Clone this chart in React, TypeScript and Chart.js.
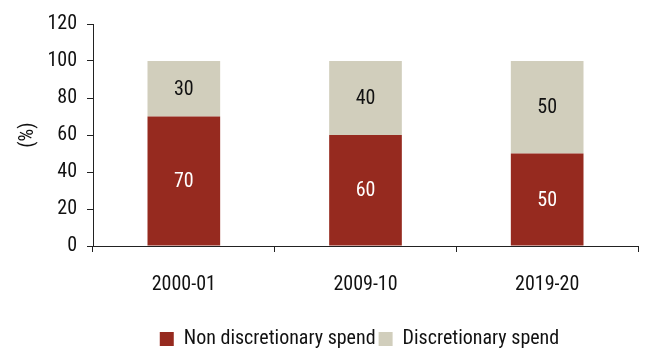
import React, { useEffect, useRef } from "react";
import { Chart, registerables } from "chart.js";

Chart.register(...registerables);

const categories = ["2000-01", "2009-10", "2019-20"];
const nonDiscretionary = [70, 60, 50];
const discretionary = [30, 40, 50];
const yTicks = [0, 20, 40, 60, 80, 100, 120];

const FONT = "'Liberation Sans Narrow', 'Roboto Condensed', Roboto, sans-serif";
const FS = 20;

const labelPlugin = {
  id: "barLabels",
  afterLayout(chart: any) {
    const lg = chart.legend;
    if (lg && chart.chartArea) {
      lg.left = chart.chartArea.left - 6;
      lg.right = chart.chartArea.right - 6;
      lg.width = lg.right - lg.left;
    }
  },
  afterDatasetsDraw(chart: any) {
    const ctx = chart.ctx;
    ctx.save();
    ctx.font = `${FS}px ${FONT}`;
    ctx.textAlign = "center";
    ctx.textBaseline = "middle";
    chart.data.datasets.forEach((ds: any, i: number) => {
      const meta = chart.getDatasetMeta(i);
      meta.data.forEach((bar: any, j: number) => {
        const p = bar.getProps(["x", "y", "base"], true);
        ctx.fillStyle = i === 0 ? "#ffffff" : "#111111";
        ctx.fillText(String(ds.data[j]), p.x, (p.y + p.base) / 2 + 1);
      });
    });
    ctx.restore();
  },
};

export default function App() {
  const ref = useRef<HTMLCanvasElement>(null);
  useEffect(() => {
    const chart = new Chart(ref.current!, {
      type: "bar",
      data: {
        labels: categories,
        datasets: [
          {
            label: "Non discretionary spend",
            data: nonDiscretionary,
            backgroundColor: "#962A1F",
            categoryPercentage: 1,
            barPercentage: 0.4,
          },
          {
            label: "Discretionary spend",
            data: discretionary,
            backgroundColor: "#D1CEBC",
            categoryPercentage: 1,
            barPercentage: 0.4,
          },
        ],
      },
      options: {
        responsive: false,
        animation: false,
        layout: { padding: { top: 24, right: 7, bottom: -10, left: 0 } },
        plugins: {
          legend: {
            position: "bottom",
            labels: {
              boxWidth: 14,
              boxHeight: 14,
              color: "#111",
              font: { family: FONT, size: FS },
              padding: 3,
            },
          },
          tooltip: { enabled: false },
        },
        scales: {
          x: {
            stacked: true,
            offset: true,
            afterFit: (s: any) => {
              s.height = 80;
            },
            grid: {
              offset: true,
              drawOnChartArea: false,
              tickLength: 6,
              color: "#222",
            },
            border: { color: "#222" },
            ticks: {
              color: "#111",
              font: { family: FONT, size: FS },
              padding: 21,
            },
          },
          y: {
            stacked: true,
            min: 0,
            max: 120,
            afterBuildTicks: (s: any) => {
              s.ticks = yTicks.map((v) => ({ value: v }));
            },
            afterFit: (s: any) => {
              s.width = 93;
            },
            grid: {
              drawOnChartArea: false,
              tickLength: 6,
              color: "#222",
            },
            border: { color: "#222" },
            ticks: {
              color: "#111",
              font: { family: FONT, size: FS },
              padding: 10,
            },
            title: {
              display: true,
              text: "(%)",
              color: "#111",
              font: { family: FONT, size: FS },
              padding: { top: 16, bottom: 0 },
            },
          },
        },
      },
      plugins: [labelPlugin],
    });
    return () => chart.destroy();
  }, []);
  return (
    <div style={{ position: "absolute", left: 0, top: 0, width: 645, height: 349, background: "#fff" }}>
      <canvas ref={ref} width={645} height={349} />
    </div>
  );
}
